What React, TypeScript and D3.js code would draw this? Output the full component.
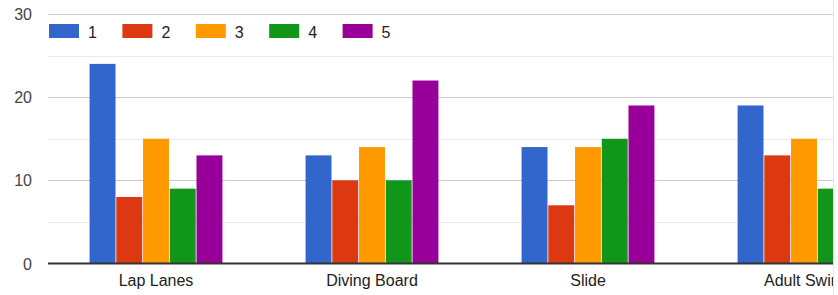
import React from "react";
import * as d3 from "d3";

const categories = ["Lap Lanes", "Diving Board", "Slide", "Adult Swim"];
const seriesNames = ["1", "2", "3", "4", "5"];
const series1 = [24, 13, 14, 19];
const series2 = [8, 10, 7, 13];
const series3 = [15, 14, 14, 15];
const series4 = [9, 10, 15, 9];
const series5 = [13, 22, 19, 12];
const colors = ["#3366cc", "#dc3912", "#ff9900", "#109618", "#990099"];
const majorTicks = [0, 10, 20, 30];
const minorTicks = [5, 15, 25];

const W = 838;
const H = 295;
const left = 48;
const clipRight = 833;

export default function App() {
  const allSeries = [series1, series2, series3, series4, series5];
  const y = d3.scaleLinear().domain([0, 30]).range([263.5, 14]);
  const x0 = d3
    .scaleBand<string>()
    .domain(categories)
    .range([left, left + 864])
    .paddingInner(0.385)
    .paddingOuter(0.1925);
  const x1 = d3
    .scaleBand<string>()
    .domain(seriesNames)
    .range([0, x0.bandwidth()])
    .paddingInner(0.03);

  return (
    <svg
      width={W}
      height={H}
      style={{ position: "absolute", left: 0, top: 0, background: "#fff" }}
      fontFamily="'Liberation Sans', Arial, sans-serif"
    >
      <defs>
        <clipPath id="plotclip">
          <rect x={0} y={0} width={clipRight} height={H} />
        </clipPath>
      </defs>
      <g clipPath="url(#plotclip)">
        {minorTicks.map((t) => (
          <line
            key={"m" + t}
            x1={left}
            x2={W}
            y1={Math.round(y(t)) + 0.5}
            y2={Math.round(y(t)) + 0.5}
            stroke="#ebebeb"
            strokeWidth={1}
          />
        ))}
        {majorTicks
          .filter((t) => t !== 0)
          .map((t) => (
            <line
              key={"g" + t}
              x1={left}
              x2={W}
              y1={Math.round(y(t)) + 0.5}
              y2={Math.round(y(t)) + 0.5}
              stroke="#cccccc"
              strokeWidth={1}
            />
          ))}
        {categories.map((c, ci) =>
          allSeries.map((s, si) => {
            const bx = (x0(c) ?? 0) + (x1(seriesNames[si]) ?? 0);
            return (
              <rect
                key={c + si}
                x={bx}
                y={y(s[ci])}
                width={x1.bandwidth()}
                height={y(0) - y(s[ci])}
                fill={colors[si]}
              />
            );
          })
        )}
        <line
          x1={left}
          x2={W}
          y1={y(0)}
          y2={y(0)}
          stroke="#333333"
          strokeWidth={2}
        />
        {categories.map((c) => (
          <text
            key={"l" + c}
            x={(x0(c) ?? 0) + x0.bandwidth() / 2}
            y={286}
            textAnchor="middle"
            fontSize={16}
            fill="#222222"
          >
            {c}
          </text>
        ))}
        {seriesNames.map((n, i) => (
          <g key={"leg" + n} transform={`translate(${49 + i * 73.4},24)`}>
            <rect x={0} y={0} width={30} height={14} fill={colors[i]} />
            <text x={39} y={13.5} fontSize={16} fill="#222222">
              {n}
            </text>
          </g>
        ))}
      </g>
      {majorTicks.map((t) => (
        <text
          key={"t" + t}
          x={32}
          y={y(t) + 6}
          textAnchor="end"
          fontSize={16}
          fill="#444444"
        >
          {t}
        </text>
      ))}
      <line
        x1={clipRight + 0.5}
        x2={clipRight + 0.5}
        y1={0}
        y2={H}
        stroke="#e6e6e6"
        strokeWidth={1}
      />
    </svg>
  );
}
